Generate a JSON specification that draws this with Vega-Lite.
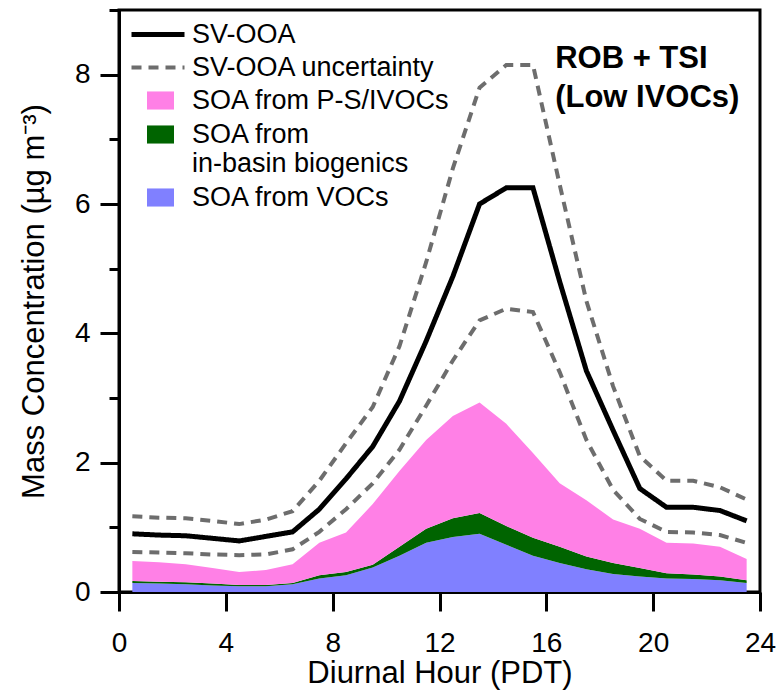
{
  "$schema": "https://vega.github.io/schema/vega-lite/v6.json",
  "width": 641,
  "height": 582,
  "autosize": {"type": "none"},
  "padding": {"left": 119, "top": 10, "right": 22, "bottom": 103},
  "background": "white",
  "config": {
    "font": "Liberation Sans",
    "view": {"stroke": "black", "strokeWidth": 3},
    "axis": {
      "domainColor": "black", "domainWidth": 3, "tickColor": "black", "tickWidth": 3,
      "labelColor": "black", "titleColor": "black", "labelFont": "Liberation Sans", "titleFont": "Liberation Sans",
      "labelFontSize": 28, "titleFontSize": 31, "titleFontWeight": "normal", "grid": false
    },
    "legend": {"labelFont": "Liberation Sans", "labelColor": "black", "labelFontSize": 27, "padding": 0, "labelLimit": 500}
  },
  "datasets": {
    "diurnal": [
      {"hour": 0.5, "sv": 0.90, "up": 1.17, "lo": 0.62, "k1": 0.14, "k2": 0.03, "k3": 0.31},
      {"hour": 1.5, "sv": 0.88, "up": 1.15, "lo": 0.61, "k1": 0.13, "k2": 0.03, "k3": 0.30},
      {"hour": 2.5, "sv": 0.87, "up": 1.14, "lo": 0.60, "k1": 0.12, "k2": 0.03, "k3": 0.28},
      {"hour": 3.5, "sv": 0.83, "up": 1.10, "lo": 0.58, "k1": 0.10, "k2": 0.03, "k3": 0.24},
      {"hour": 4.5, "sv": 0.79, "up": 1.05, "lo": 0.57, "k1": 0.09, "k2": 0.02, "k3": 0.20},
      {"hour": 5.5, "sv": 0.86, "up": 1.12, "lo": 0.58, "k1": 0.09, "k2": 0.02, "k3": 0.23},
      {"hour": 6.5, "sv": 0.93, "up": 1.25, "lo": 0.66, "k1": 0.12, "k2": 0.02, "k3": 0.29},
      {"hour": 7.5, "sv": 1.28, "up": 1.72, "lo": 0.93, "k1": 0.21, "k2": 0.05, "k3": 0.50},
      {"hour": 8.5, "sv": 1.75, "up": 2.30, "lo": 1.28, "k1": 0.26, "k2": 0.05, "k3": 0.61},
      {"hour": 9.5, "sv": 2.25, "up": 2.86, "lo": 1.68, "k1": 0.38, "k2": 0.04, "k3": 0.94},
      {"hour": 10.5, "sv": 2.95, "up": 3.80, "lo": 2.20, "k1": 0.56, "k2": 0.14, "k3": 1.17},
      {"hour": 11.5, "sv": 3.88, "up": 5.10, "lo": 2.88, "k1": 0.76, "k2": 0.22, "k3": 1.37},
      {"hour": 12.5, "sv": 4.88, "up": 6.55, "lo": 3.58, "k1": 0.85, "k2": 0.29, "k3": 1.58},
      {"hour": 13.5, "sv": 6.00, "up": 7.80, "lo": 4.20, "k1": 0.90, "k2": 0.32, "k3": 1.71},
      {"hour": 14.5, "sv": 6.25, "up": 8.15, "lo": 4.38, "k1": 0.73, "k2": 0.29, "k3": 1.58},
      {"hour": 15.5, "sv": 6.25, "up": 8.15, "lo": 4.33, "k1": 0.56, "k2": 0.28, "k3": 1.31},
      {"hour": 16.5, "sv": 4.80, "up": 6.30, "lo": 3.40, "k1": 0.45, "k2": 0.25, "k3": 0.98},
      {"hour": 17.5, "sv": 3.42, "up": 4.50, "lo": 2.35, "k1": 0.35, "k2": 0.20, "k3": 0.87},
      {"hour": 18.5, "sv": 2.50, "up": 3.18, "lo": 1.58, "k1": 0.28, "k2": 0.17, "k3": 0.67},
      {"hour": 19.5, "sv": 1.60, "up": 2.10, "lo": 1.13, "k1": 0.24, "k2": 0.13, "k3": 0.61},
      {"hour": 20.5, "sv": 1.31, "up": 1.72, "lo": 0.93, "k1": 0.21, "k2": 0.08, "k3": 0.47},
      {"hour": 21.5, "sv": 1.31, "up": 1.72, "lo": 0.92, "k1": 0.20, "k2": 0.07, "k3": 0.48},
      {"hour": 22.5, "sv": 1.26, "up": 1.62, "lo": 0.88, "k1": 0.18, "k2": 0.06, "k3": 0.46},
      {"hour": 23.5, "sv": 1.10, "up": 1.43, "lo": 0.76, "k1": 0.14, "k2": 0.04, "k3": 0.33}
    ],
    "note": [{"note": ["ROB + TSI", "(Low IVOCs)"]}]
  },
  "resolve": {"axis": {"y": "independent"}},
  "layer": [
    {
      "data": {"name": "diurnal"},
      "transform": [{"fold": ["k1", "k2", "k3"], "as": ["src", "val"]}],
      "mark": {"type": "area", "opacity": 1, "interpolate": "linear"},
      "encoding": {
        "x": {
          "field": "hour", "type": "quantitative",
          "scale": {"domain": [0, 24], "nice": false, "zero": false},
          "axis": {"values": [0, 4, 8, 12, 16, 20, 24], "tickSize": 19, "labelPadding": 18, "labelFlush": false, "title": "Diurnal Hour (PDT)", "titlePadding": 1}
        },
        "y": {
          "field": "val", "type": "quantitative", "stack": "zero",
          "scale": {"domain": [0, 9], "nice": false},
          "axis": {
            "orient": "left",
            "values": [0, 2, 4, 6, 8],
            "format": "d",
            "tickSize": 19,
            "labelPadding": 10,
            "labelFlush": false,
            "title": "Mass Concentration (µg m⁻³)",
            "titlePadding": 24
          }
        },
        "order": {"field": "src", "sort": "ascending"},
        "fill": {
          "field": "src", "type": "nominal",
          "scale": {"domain": ["k3", "k2", "k1"], "range": ["#ff80e6", "#006400", "#8080ff"]},
          "legend": {
            "title": null, "orient": "none", "legendX": 28, "legendY": 77,
            "symbolType": "M-1,-0.67H1V0.67H-1Z", "symbolSize": 729, "symbolStrokeWidth": 0,
            "labelOffset": 18, "rowPadding": 6,
            "labelExpr": "datum.value == 'k3' ? 'SOA from P-S/IVOCs' : datum.value == 'k2' ? ['SOA from', 'in-basin biogenics'] : 'SOA from VOCs'",
            "encoding": {"labels": {"update": {"dy": {"signal": "datum.value == 'k2' ? 15 : 0"}, "lineHeight": {"value": 30}}}}
          }
        }
      }
    },
    {
      "data": {"name": "diurnal"},
      "transform": [{"fold": ["lo", "up", "sv"], "as": ["ln", "lv"]}],
      "mark": {"type": "line", "interpolate": "linear"},
      "encoding": {
        "x": {"field": "hour", "type": "quantitative"},
        "y": {
          "field": "lv", "type": "quantitative",
          "axis": {"orient": "left", "values": [1, 3, 5, 7, 9], "tickSize": 10, "labels": false, "domain": false, "title": null}
        },
        "stroke": {
          "field": "ln", "type": "nominal",
          "scale": {"domain": ["sv", "up", "lo"], "range": ["#000000", "#6d6d6d", "#6d6d6d"]},
          "legend": {
            "title": null, "orient": "none", "legendX": 10, "legendY": 8, "values": ["sv", "up"],
            "symbolType": "stroke", "symbolSize": 2809, "clipHeight": 33, "rowPadding": 0, "labelOffset": 5,
            "labelExpr": "datum.value == 'sv' ? 'SV-OOA' : 'SV-OOA uncertainty'"
          }
        },
        "strokeDash": {
          "field": "ln", "type": "nominal",
          "scale": {"domain": ["sv", "up", "lo"], "range": [[1, 0], [10, 7], [10, 7]]},
          "legend": {
            "title": null, "orient": "none", "legendX": 10, "legendY": 8, "values": ["sv", "up"],
            "symbolType": "stroke", "symbolSize": 2809, "clipHeight": 33, "rowPadding": 0, "labelOffset": 5,
            "labelExpr": "datum.value == 'sv' ? 'SV-OOA' : 'SV-OOA uncertainty'"
          }
        },
        "strokeWidth": {
          "field": "ln", "type": "nominal",
          "scale": {"type": "ordinal", "domain": ["sv", "up", "lo"], "range": [5, 4, 4]},
          "legend": {
            "title": null, "orient": "none", "legendX": 10, "legendY": 8, "values": ["sv", "up"],
            "symbolType": "stroke", "symbolSize": 2809, "clipHeight": 33, "rowPadding": 0, "labelOffset": 5,
            "labelExpr": "datum.value == 'sv' ? 'SV-OOA' : 'SV-OOA uncertainty'"
          }
        }
      }
    },
    {
      "data": {"name": "note"},
      "mark": {"type": "text", "align": "left", "baseline": "top", "fontSize": 31, "fontWeight": "bold", "font": "Liberation Sans", "lineHeight": 39, "fill": "black"},
      "encoding": {
        "x": {"datum": 16.33},
        "y": {"datum": 8.47, "axis": null},
        "text": {"field": "note", "type": "nominal"}
      }
    }
  ]
}
